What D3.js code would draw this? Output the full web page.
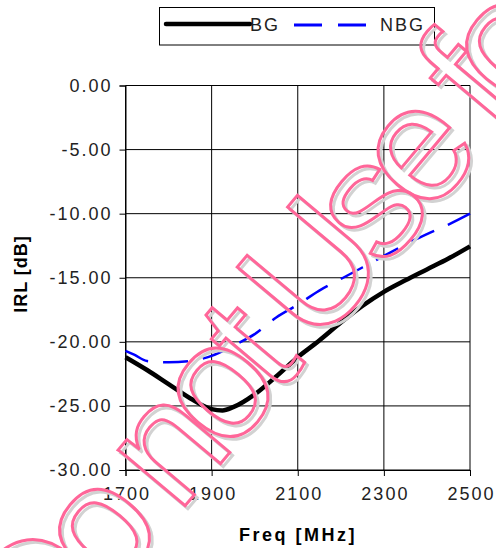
<!DOCTYPE html>
<html>
<head>
<meta charset="utf-8">
<script src="https://cdn.jsdelivr.net/npm/d3@7"></script>
<style>
  body { margin: 0; background: #fff; }
  svg { display: block; font-family: "Liberation Sans", Arial, sans-serif; }
</style>
</head>
<body>
<div id="chart"></div>
<script>
// values
const freqBG = [1700, 1750, 1800, 1850, 1900, 1925, 1950, 2000, 2050, 2100, 2150, 2200, 2250, 2300, 2350, 2400, 2450, 2500];
const irlBG = [-21.2, -22.2, -23.3, -24.4, -25.25, -25.35, -25.1, -24.1, -22.7, -21.2, -19.9, -18.5, -17.2, -16.1, -15.2, -14.35, -13.5, -12.55];

const freqNBG = [1700, 1720, 1750, 1800, 1850, 1900, 1950, 2000, 2050, 2100, 2150, 2200, 2250, 2300, 2350, 2400, 2450, 2500];
const irlNBG = [-20.7, -21.0, -21.5, -21.6, -21.5, -21.1, -20.3, -19.4, -18.1, -17.1, -16.0, -15.1, -14.2, -13.3, -12.4, -11.6, -10.85, -10.0];

const xTicks = [1700, 1900, 2100, 2300, 2500];
const yTicks = [0, -5, -10, -15, -20, -25, -30];
const seriesNames = ["BG", "NBG"];
const watermark = "Do not Use for Design";

const width = 496, height = 548;

const svg = d3.select("#chart").append("svg")
  .attr("width", width)
  .attr("height", height);

const x = d3.scaleLinear().domain([1700, 2500]).range([125.5, 470]);
const y = d3.scaleLinear().domain([-30, 0]).range([470, 85.5]);

// grid
svg.append("g")
  .selectAll("line")
  .data(xTicks)
  .join("line")
  .attr("x1", d => x(d)).attr("x2", d => x(d))
  .attr("y1", y(0)).attr("y2", y(-30))
  .attr("stroke", "#000").attr("stroke-width", 1);

svg.append("g")
  .selectAll("line")
  .data(yTicks)
  .join("line")
  .attr("x1", x(1700)).attr("x2", x(2500))
  .attr("y1", d => y(d)).attr("y2", d => y(d))
  .attr("stroke", "#000").attr("stroke-width", 1);

// axes
const yAxis = svg.append("g")
  .attr("transform", `translate(${x(1700)},0)`)
  .call(d3.axisLeft(y).tickValues(yTicks).tickFormat(d => d.toFixed(2)).tickSize(6).tickPadding(9));

const xAxis = svg.append("g")
  .attr("transform", `translate(0,${y(-30)})`)
  .call(d3.axisBottom(x).tickValues(xTicks).tickFormat(d => String(d)).tickSize(6).tickPadding(11));

[yAxis, xAxis].forEach(a => {
  a.select(".domain").attr("stroke", "#000");
  a.selectAll(".tick line").attr("stroke", "#000");
  a.selectAll("text")
    .attr("fill", "#222")
    .style("font-family", "'Liberation Sans', Arial, sans-serif")
    .style("font-size", "18px")
    .style("letter-spacing", "2px");
});
yAxis.selectAll("text").attr("dx", "2px");
xAxis.selectAll("text").attr("dx", "1px");

// axis titles
svg.append("text")
  .attr("x", 298).attr("y", 541)
  .attr("text-anchor", "middle")
  .style("font-size", "18px").style("font-weight", "bold")
  .style("letter-spacing", "2.5px")
  .text("Freq [MHz]");

svg.append("text")
  .attr("transform", "translate(27,274) rotate(-90)")
  .attr("text-anchor", "middle")
  .style("font-size", "18px").style("font-weight", "bold")
  .style("letter-spacing", "1px")
  .text("IRL [dB]");

// series
const line = d3.line()
  .x(d => x(d[0]))
  .y(d => y(d[1]))
  .curve(d3.curveMonotoneX);

svg.append("path")
  .datum(d3.zip(freqNBG, irlNBG))
  .attr("d", line)
  .attr("fill", "none")
  .attr("stroke", "#0000ff")
  .attr("stroke-width", 2.5)
  .attr("stroke-dasharray", "25,15");

svg.append("path")
  .datum(d3.zip(freqBG, irlBG))
  .attr("d", line)
  .attr("fill", "none")
  .attr("stroke", "#000")
  .attr("stroke-width", 4.5)
  .attr("stroke-linejoin", "round");

// legend
const legend = svg.append("g");
legend.append("rect")
  .attr("x", 159.5).attr("y", 7.5)
  .attr("width", 275).attr("height", 37.5)
  .attr("fill", "#fff").attr("stroke", "#000");
legend.append("line")
  .attr("x1", 166).attr("x2", 250).attr("y1", 24).attr("y2", 24)
  .attr("stroke", "#000").attr("stroke-width", 4.5).attr("stroke-linecap", "round");
legend.append("line")
  .attr("x1", 294).attr("x2", 366).attr("y1", 25).attr("y2", 25)
  .attr("stroke", "#0000ff").attr("stroke-width", 3).attr("stroke-dasharray", "28,16");
legend.selectAll("text")
  .data(seriesNames)
  .join("text")
  .attr("x", (d, i) => i === 0 ? 250 : 380)
  .attr("y", 31)
  .attr("fill", "#222")
  .style("font-size", "18px")
  .style("letter-spacing", "2px")
  .text(d => d);

// watermark
const wm = svg.append("g")
  .style("font-family", "'Liberation Sans', Arial, sans-serif")
  .style("font-size", "165px")
  .style("letter-spacing", "-15px");

wm.append("text")
  .attr("transform", "translate(44.4,679.6) rotate(-50)")
  .attr("fill", "none")
  .attr("stroke", "#d2d2d2")
  .attr("stroke-width", 3)
  .text(watermark);

wm.append("text")
  .attr("transform", "translate(41.6,676.8) rotate(-50)")
  .attr("fill", "none")
  .attr("stroke", "#ff6699")
  .attr("stroke-width", 3)
  .text(watermark);
</script>
</body>
</html>
